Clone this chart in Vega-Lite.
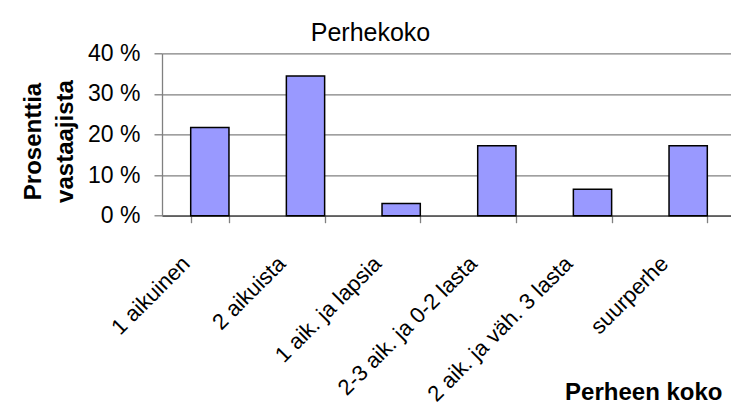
{
  "$schema": "https://vega.github.io/schema/vega-lite/v6.json",
  "width": 569,
  "height": 162.4,
  "autosize": {"type": "none"},
  "padding": {"left": 162, "top": 53.3, "right": 0, "bottom": 195.3},
  "background": "white",
  "title": {"text": "Perhekoko", "frame": "group", "anchor": "middle", "dx": -76, "dy": 36, "offset": 12, "baseline": "alphabetic", "fontSize": 25, "fontWeight": "normal", "font": "Liberation Sans", "color": "black"},
  "data": {"values": [
    {"perhe": "1 aikuinen", "osuus": 21.7},
    {"perhe": "2 aikuista", "osuus": 34.4},
    {"perhe": "1 aik. ja lapsia", "osuus": 3.0},
    {"perhe": "2-3 aik. ja 0-2 lasta", "osuus": 17.2},
    {"perhe": "2 aik. ja väh. 3 lasta", "osuus": 6.5},
    {"perhe": "suurperhe", "osuus": 17.2}
  ]},
  "mark": {"type": "bar", "fill": "#9999FF", "stroke": "black", "strokeWidth": 1.5},
  "encoding": {
    "x": {
      "field": "perhe", "type": "nominal", "sort": null,
      "scale": {"range": [0, 574], "paddingInner": 0.6, "paddingOuter": 0.3},
      "axis": {
        "title": "Perheen koko", "titleFontSize": 24, "titleFontWeight": "bold", "titleColor": "black",
        "titleX": 560, "titleY": 184, "titleAlign": "right", "titleBaseline": "alphabetic",
        "labelAngle": -45, "labelAlign": "right", "labelBaseline": "middle", "labelFontSize": 22,
        "labelPadding": 37, "labelOffset": -24, "labelColor": "black", "labelOverlap": false, "labelLimit": 400,
        "tickSize": 7, "tickBand": "extent", "tickColor": "#808080", "tickWidth": 1.3,
        "domainColor": "#404040", "domainWidth": 1.3, "grid": false
      }
    },
    "y": {
      "field": "osuus", "type": "quantitative",
      "scale": {"domain": [0, 40], "nice": false},
      "axis": {
        "values": [0, 10, 20, 30, 40], "labelExpr": "datum.value + ' %'",
        "labelFontSize": 23, "labelColor": "black", "labelPadding": 14,
        "tickSize": 8, "tickColor": "#808080", "tickWidth": 1.3,
        "domainColor": "#808080", "domainWidth": 1.3,
        "grid": true, "gridColor": "#808080", "gridWidth": 1.3,
        "title": ["Prosenttia", "vastaajista"], "titleFontSize": 24, "titleFontWeight": "bold", "titleColor": "black",
        "titleAngle": -90, "titleX": -122, "titleY": 87.7, "titleAlign": "center", "titleBaseline": "alphabetic", "titleLineHeight": 32
      }
    }
  },
  "config": {"view": {"stroke": null}, "font": "Liberation Sans"}
}
